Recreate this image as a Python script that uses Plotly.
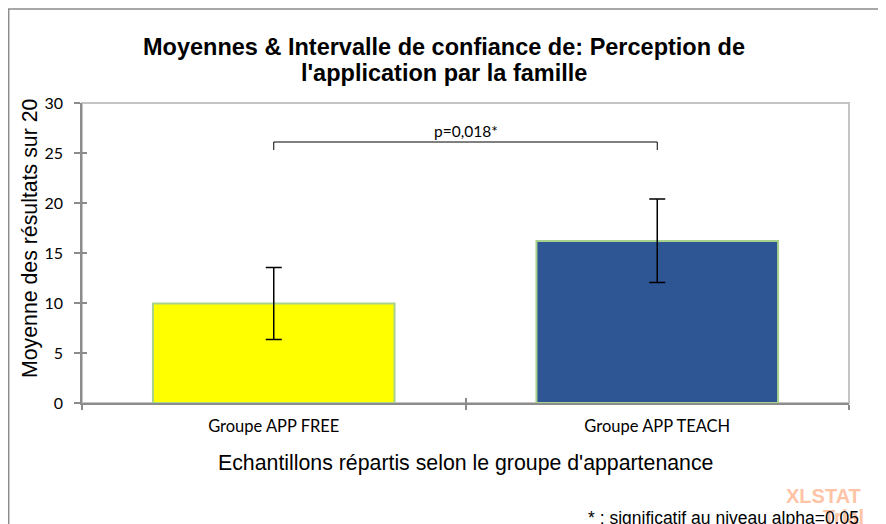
import plotly.graph_objects as go

categories = ["Groupe APP FREE", "Groupe APP TEACH"]
means = [9.95, 16.2]
ci_low = [6.35, 12.05]
ci_high = [13.55, 20.4]
bar_colors = ["#FFFF00", "#2E5594"]
y_ticks = [0, 5, 10, 15, 20, 25, 30]
p_label = "p=0,018*"
bracket_y = 26.1
bracket_drop = 0.8

err_plus = [h - m for h, m in zip(ci_high, means)]
err_minus = [m - l for m, l in zip(means, ci_low)]

OFF = 8  # page body margin
W, H = 886 - OFF, 524 - OFF
# plot area in page pixels: left 82, right 849, top 103, bottom 403
L = 82 - OFF
T = 103 - OFF
R = W - (849 - OFF)
B = H - (403 - OFF)
pw, ph = W - L - R, H - T - B


def px(x):
    return (x - OFF - L) / pw


def py(y):
    return (H - B - (y - OFF)) / ph


fig = go.Figure()
fig.add_trace(go.Bar(
    x=categories, y=means, width=0.63,
    marker=dict(color=bar_colors, line=dict(color="#A9D18E", width=2)),
    error_y=dict(type="data", symmetric=False, array=err_plus, arrayminus=err_minus,
                 color="black", thickness=1.5, width=8),
    showlegend=False, xaxis="x", yaxis="y",
))

# significance bracket
fig.add_trace(go.Scatter(
    x=[categories[0], categories[0], categories[1], categories[1]],
    y=[bracket_y - bracket_drop, bracket_y, bracket_y, bracket_y - bracket_drop],
    mode="lines", line=dict(color="black", width=1), showlegend=False, hoverinfo="skip",
    xaxis="x2", yaxis="y2",
))

tick_font = dict(family="Lato, Open Sans", color="black")

fig.update_layout(
    width=W, height=H,
    margin=dict(l=L, r=R, t=T, b=B),
    paper_bgcolor="white", plot_bgcolor="white",
    font=dict(family="Liberation Sans, Arial", color="black"),
    xaxis=dict(
        type="category", categoryarray=categories, tickson="boundaries",
        ticks="outside", ticklen=5, tickwidth=1.5, tickcolor="#8C8C8C",
        showline=True, linecolor="#8C8C8C", linewidth=2,
        tickfont=dict(size=16.5, **tick_font), ticklabelstandoff=7,
        showgrid=False, range=[-0.5, 1.5],
    ),
    xaxis2=dict(
        type="category", categoryarray=categories, tickson="boundaries",
        overlaying="x", side="bottom", ticks="inside", ticklen=5, tickwidth=1.5,
        tickcolor="#8C8C8C", showticklabels=False, showgrid=False, showline=False,
        range=[-0.5, 1.5],
    ),
    yaxis=dict(
        range=[0, 30], tickvals=y_ticks, ticks="outside", ticklen=6, tickwidth=1.5,
        tickcolor="#8C8C8C", showline=True, linecolor="#8C8C8C", linewidth=1.5,
        tickfont=dict(size=16, **tick_font), ticklabelstandoff=8,
        showgrid=False, zeroline=False,
    ),
    yaxis2=dict(
        range=[0, 30], tickvals=y_ticks, overlaying="y", side="left",
        ticks="inside", ticklen=5, tickwidth=1.5, tickcolor="#8C8C8C",
        showticklabels=False, showgrid=False, zeroline=False, showline=False,
    ),
    shapes=[
        # plot area border (top/right)
        dict(type="rect", xref="paper", yref="paper", x0=0, x1=1, y0=0, y1=1,
             line=dict(color="#C4C4C4", width=2), layer="below"),
        # outer chart border
        dict(type="rect", xref="paper", yref="paper",
             x0=px(8.7), x1=px(879), y0=py(560), y1=py(9),
             line=dict(color="#8C8C8C", width=1.5)),
    ],
    annotations=[
        dict(text="<b>Moyennes & Intervalle de confiance de: Perception de</b>",
             xref="paper", yref="paper", x=px(444), y=py(47), xanchor="center", yanchor="middle",
             showarrow=False, font=dict(size=23.5, family="Liberation Sans, Arial")),
        dict(text="<b>l'application par la famille</b>",
             xref="paper", yref="paper", x=px(444), y=py(73), xanchor="center", yanchor="middle",
             showarrow=False, font=dict(size=23.5, family="Liberation Sans, Arial")),
        dict(text="Moyenne des résultats sur 20", textangle=-90,
             xref="paper", yref="paper", x=px(30), y=py(238), xanchor="center", yanchor="middle",
             showarrow=False, font=dict(size=21.3)),
        dict(text="Echantillons répartis selon le groupe d'appartenance",
             xref="paper", yref="paper", x=px(465), y=py(463), xanchor="center", yanchor="middle",
             showarrow=False, font=dict(size=21.3)),
        dict(text=p_label, xref="x", yref="paper", x=0.5, y=py(131),
             xanchor="center", yanchor="middle", showarrow=False,
             font=dict(size=15.5, **tick_font)),
        dict(text="<b>XLSTAT</b>", xref="paper", yref="paper", x=px(863), y=py(496),
             xanchor="right", yanchor="middle", showarrow=False,
             font=dict(size=20, color="#FFC4A6", family="Liberation Sans, Arial")),
        dict(text="<b>Trial</b>", xref="paper", yref="paper", x=px(866), y=py(517),
             xanchor="right", yanchor="middle", showarrow=False,
             font=dict(size=20, color="#FFC4A6", family="Liberation Sans, Arial")),
        dict(text="* : significatif au niveau alpha=0.05", xref="paper", yref="paper",
             x=px(861), y=py(518), xanchor="right", yanchor="middle", showarrow=False,
             font=dict(size=17.5)),
    ],
)

fig.write_html("out.html")
